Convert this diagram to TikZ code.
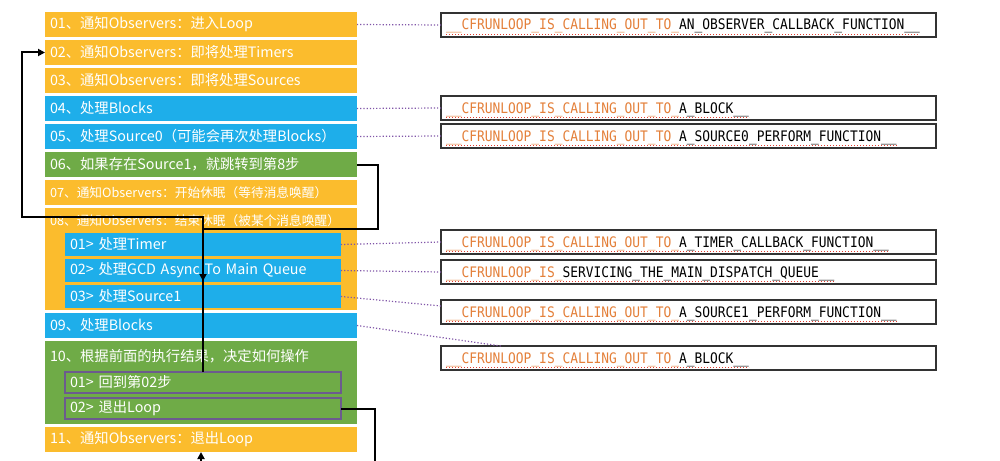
\documentclass[tikz,border=0pt]{standalone}
\usepackage{fontspec}
\newfontfamily\cjkfont{Noto Sans CJK SC}
\newfontfamily\codefont[FakeStretch=0.89]{DejaVu Sans Mono}
\usetikzlibrary{positioning,arrows.meta}

\definecolor{rlOrange}{RGB}{251,188,45}
\definecolor{rlBlue}{RGB}{30,174,234}
\definecolor{rlGreen}{RGB}{111,171,71}
\definecolor{rlEdge}{RGB}{108,91,142}
\definecolor{rlLink}{RGB}{128,85,168}
\definecolor{rlCode}{RGB}{228,128,58}
\definecolor{rlRed}{RGB}{226,60,46}
\definecolor{rlFrame}{RGB}{51,51,51}

\begin{document}
\begin{tikzpicture}[
      x=1pt, y=-1pt,
      every node/.style={inner sep=0pt, outer sep=0pt},
      rowbox/.style={
        rectangle,
        fill=rlOrange,
        text=white,
        minimum height=25pt,
        text width=302pt,
        inner xsep=5pt,
        align=left,
        font=\cjkfont\fontsize{14.3}{16}\selectfont
      },
      smalltext/.style={font=\cjkfont\fontsize{12.7}{14}\selectfont},
      subbox/.style={
        rectangle,
        fill=rlBlue,
        text=white,
        minimum height=23pt,
        text width=266pt,
        inner xsep=5pt,
        align=left,
        font=\cjkfont\fontsize{14.3}{16}\selectfont
      },
      gobox/.style={
        subbox,
        fill=rlGreen,
        draw=rlEdge,
        line width=1.2pt,
        minimum height=21pt
      },
      callbox/.style={
        draw=rlFrame,
        line width=1.2pt,
        minimum width=495pt,
        minimum height=24pt,
        anchor=west
      },
      calltext/.style={font=\codefont\fontsize{14.5}{16}\selectfont},
      spellmark/.style={draw=rlRed, dotted, line width=1pt},
      link/.style={draw=rlLink, dotted, line width=1.2pt},
      jump/.style={
        draw=black,
        line width=2pt,
        -{Triangle[length=7pt,width=7pt]}
      },
      node distance=3pt
    ]
    \path[use as bounding box, fill=white] (0,0) rectangle (1000,460);

    % run loop steps
    \node[rowbox, anchor=north west]
      (r01) at (45,12)
      {01、通知Observers：进入Loop};
    \node[rowbox, below=of r01]
      (r02)
      {02、通知Observers：即将处理Timers};
    \node[rowbox, below=of r02]
      (r03)
      {03、通知Observers：即将处理Sources};
    \node[rowbox, fill=rlBlue, below=of r03]
      (r04)
      {04、处理Blocks};
    \node[rowbox, fill=rlBlue, below=of r04]
      (r05)
      {05、处理Source0（可能会再次处理Blocks）};
    \node[rowbox, fill=rlGreen, below=of r05]
      (r06)
      {06、如果存在Source1，就跳转到第8步};
    \node[rowbox, smalltext, below=of r06]
      (r07)
      {07、通知Observers：开始休眠（等待消息唤醒）};

    \node[rowbox, below=of r07, minimum height=102pt] (r08) {};
    \node[rowbox, smalltext, fill=none, anchor=north west]
      (r08t) at (r08.north west)
      {08、通知Observers：结束休眠（被某个消息唤醒）};
    \node[subbox, below right=25pt and 20pt of r08.north west]
      (s1)
      {01> 处理Timer};
    \node[subbox, below=of s1]
      (s2)
      {02> 处理GCD Async To Main Queue};
    \node[subbox, below=of s2]
      (s3)
      {03> 处理Source1};

    \node[rowbox, fill=rlBlue, below=of r08]
      (r09)
      {09、处理Blocks};

    \node[rowbox, fill=rlGreen, below=of r09, minimum height=83pt] (r10) {};
    \node[rowbox, fill=none, minimum height=31pt, anchor=north west]
      (r10t) at (r10.north west)
      {10、根据前面的执行结果，决定如何操作};
    \node[gobox, below right=31pt and 20pt of r10.north west]
      (g1)
      {01> 回到第02步};
    \node[gobox, below=5pt of g1]
      (g2)
      {02> 退出Loop};

    \node[rowbox, below=of r10]
      (r11)
      {11、通知Observers：退出Loop};

    % callouts
    \foreach \y/\pre/\post [count=\i] in {
        25/{\_\_CFRUNLOOP\_IS\_CALLING\_OUT\_TO\_}/{AN\_OBSERVER\_CALLBACK\_FUNCTION\_\_},
        108/{\_\_CFRUNLOOP\_IS\_CALLING\_OUT\_TO\_}/{A\_BLOCK\_\_},
        136/{\_\_CFRUNLOOP\_IS\_CALLING\_OUT\_TO\_}/{A\_SOURCE0\_PERFORM\_FUNCTION\_\_},
        242/{\_\_CFRUNLOOP\_IS\_CALLING\_OUT\_TO\_}/{A\_TIMER\_CALLBACK\_FUNCTION\_\_},
        272/{\_\_CFRUNLOOP\_IS\_}/{SERVICING\_THE\_MAIN\_DISPATCH\_QUEUE\_\_},
        312/{\_\_CFRUNLOOP\_IS\_CALLING\_OUT\_TO\_}/{A\_SOURCE1\_PERFORM\_FUNCTION\_\_},
        358/{\_\_CFRUNLOOP\_IS\_CALLING\_OUT\_TO\_}/{A\_BLOCK\_\_}} {
      \node[callbox] (c\i) at (441,\y) {};
      \node[calltext, anchor=base west]
        (t\i) at ([xshift=5pt, yshift=-5pt]c\i.west)
        {\textcolor{rlCode}{\pre}\post};
      \draw[spellmark] ([yshift=-4.5pt]t\i.base west) -- ([yshift=-4.5pt]t\i.base east);
    }

    \draw[link] (r01.east) -- (c1.west);
    \draw[link] (r04.east) -- (c2.west);
    \draw[link] (r05.east) -- (c3.west);
    \draw[link] (s1.east) -- (c4.west);
    \draw[link] (s2.east) -- (c5.west);
    \draw[link] (s3.east) -- ([yshift=6pt]c6.west);
    \draw[link] (r09.east) -- ([xshift=60pt]c7.north west);

    % control flow
    \coordinate (backL) at (22,217);
    \coordinate (jumpR) at (378,229);
    \coordinate (exitB) at (375,478);
    \draw[jump] (g1.north) |- (backL) |- (r02.west);
    \draw[jump] (r06.east) -| (jumpR) -- (jumpR -| g1.north) -- ++(0,52);
    \draw[jump] (g2.east) -| (exitB) -| (r11.south);
  \end{tikzpicture}
\end{document}
